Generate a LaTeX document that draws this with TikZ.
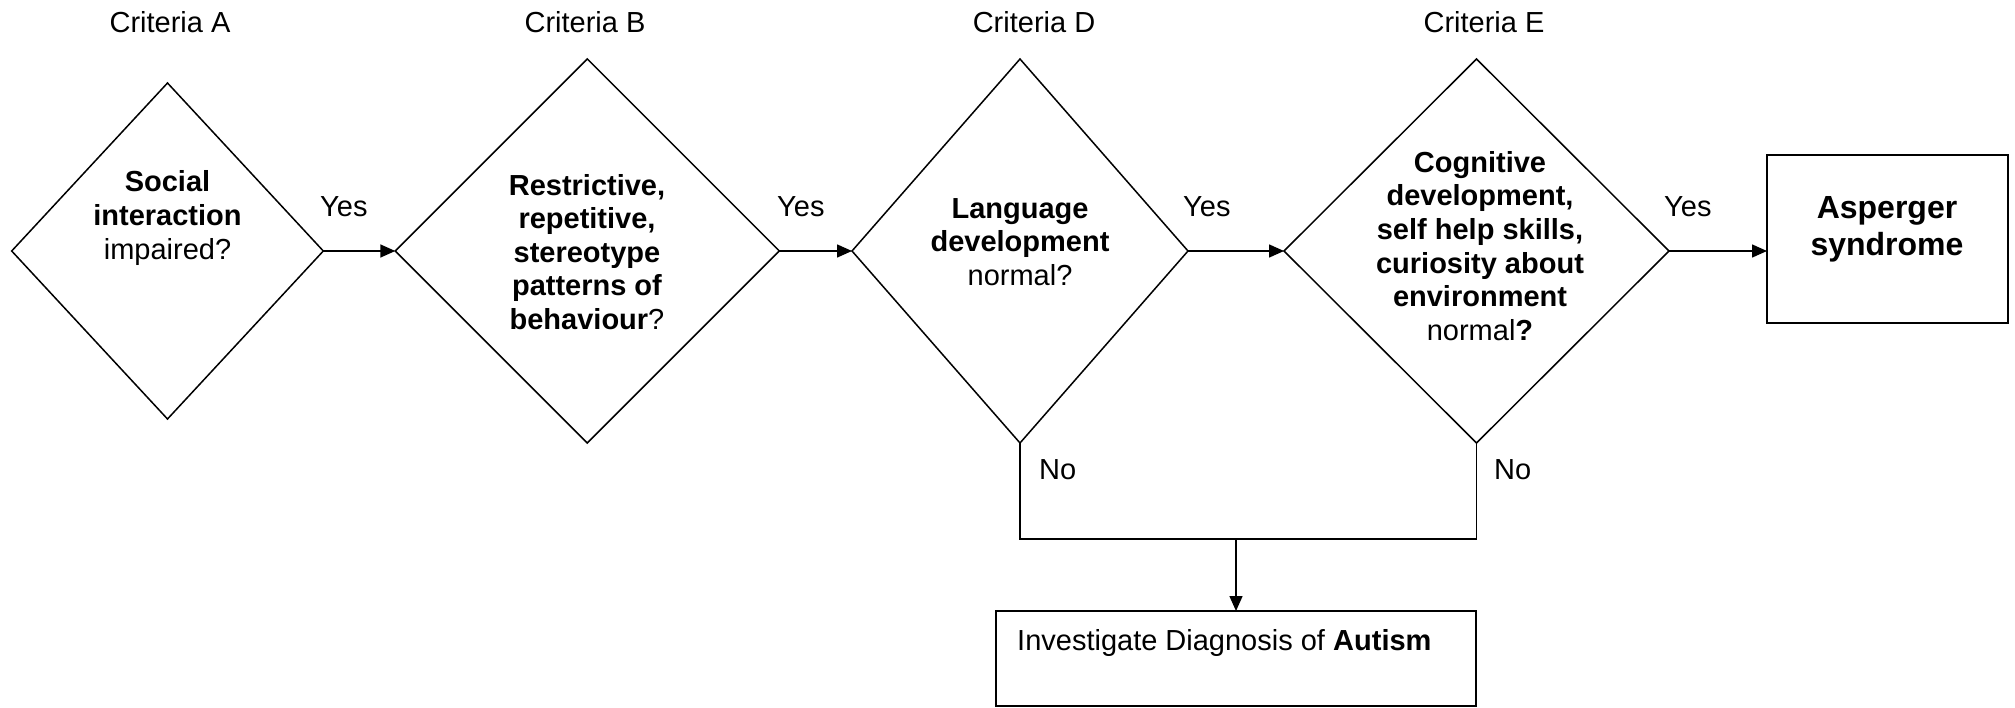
\documentclass[tikz,border=0pt]{standalone}
\usepackage{fontspec}
\setmainfont{Liberation Sans}
\usetikzlibrary{shapes.geometric,arrows.meta}
\begin{document}
\begin{tikzpicture}[x=1pt,y=-1pt,
  dia/.style={draw, shape=diamond, inner sep=0pt, outer sep=0pt, line width=1.5pt},
  boxnode/.style={draw, rectangle, inner sep=0pt, outer sep=0pt, line width=1.5pt},
  txt/.style={align=center, inner sep=0pt, font=\fontsize{29}{33.6}\selectfont},
  lbl/.style={inner sep=0pt, font=\fontsize{29}{33.6}\selectfont},
  conn/.style={line width=1.5pt},
  arr/.style={line width=1.5pt, -{Triangle[length=15pt,width=13pt]}}]
\useasboundingbox (0,0) rectangle (2015,708);
% diamonds
\node[dia, minimum width=311.6pt, minimum height=336pt] (A) at (167.5,251) {};
\node[dia, minimum width=384pt, minimum height=384pt] (B) at (587.3,251) {};
\node[dia, minimum width=336pt, minimum height=384pt] (D) at (1020,251) {};
\node[dia, minimum width=385pt, minimum height=384pt] (E) at (1476.5,251) {};
% boxes
\node[boxnode, minimum width=241pt, minimum height=168pt] (asp) at (1887.5,239) {};
\node[boxnode, minimum width=480pt, minimum height=95pt] (aut) at (1236,658.5) {};
% criteria labels
\node[lbl] (cA) at (170,22) {Criteria A};
\node[lbl] (cB) at (585,22) {Criteria B};
\node[lbl] (cD) at (1034,22) {Criteria D};
\node[lbl] (cE) at (1484,22) {Criteria E};
% diamond texts
\node[txt] (tA) at (167.5,218) {\textbf{Social}\\\textbf{interaction}\\impaired?};
\node[txt] (tB) at (587,252) {\textbf{Restrictive,}\\\textbf{repetitive,}\\\textbf{stereotype}\\\textbf{patterns of}\\\textbf{behaviour}?};
\node[txt] (tD) at (1020,242) {\textbf{Language}\\\textbf{development}\\normal?};
\node[txt] (tE) at (1480,246) {\textbf{Cognitive}\\\textbf{development,}\\\textbf{self help skills,}\\\textbf{curiosity about}\\\textbf{environment}\\normal\textbf{?}};
\node[txt, font=\fontsize{32}{36.7}\selectfont] (tAsp) at (1887,229) {\textbf{Asperger}\\\textbf{syndrome}};
\node[lbl, anchor=base west] (tAut) at (1017,650) {Investigate Diagnosis of \textbf{Autism}};
% connectors
\draw[arr] (A.east) -- (B.west);
\draw[arr] (B.east) -- (D.west);
\draw[arr] (D.east) -- (E.west);
\draw[arr] (E.east) -- (E.east -| asp.west);
\coordinate (j) at (1236,539);
\draw[conn] (D.south) -- (D.south |- j) -- (E.south |- j) -- (E.south);
\draw[arr] (j) -- (aut.north);
% yes / no labels
\node[lbl, anchor=west] (y1) at (320,207) {Yes};
\node[lbl, anchor=west] (y2) at (777,207) {Yes};
\node[lbl, anchor=west] (y3) at (1183,207) {Yes};
\node[lbl, anchor=west] (y4) at (1664,207) {Yes};
\node[lbl, anchor=west] (n1) at (1039,470) {No};
\node[lbl, anchor=west] (n2) at (1494,470) {No};
\end{tikzpicture}
\end{document}
